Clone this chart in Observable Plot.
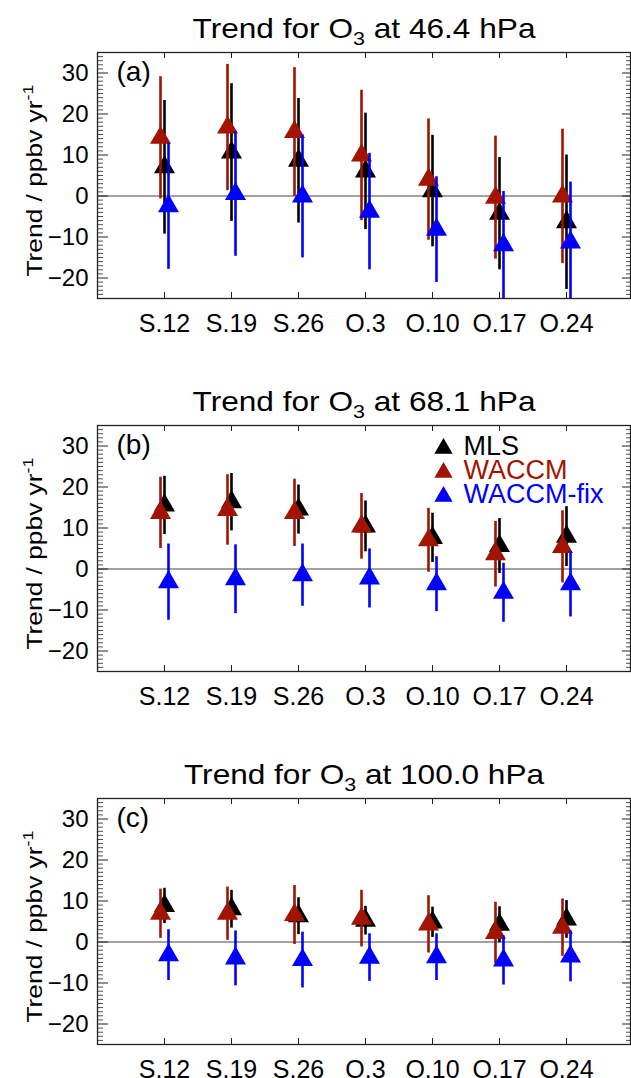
<!DOCTYPE html>
<html><head><meta charset="utf-8">
<script src="https://cdn.jsdelivr.net/npm/d3@7"></script>
<script src="https://cdn.jsdelivr.net/npm/@observablehq/plot@0.6"></script>
<style>
html,body{margin:0;padding:0;overflow:hidden;background:#fff}
#chart svg{display:block}
</style>
</head><body><div id="chart"></div>
<script>
const categories = ["S.12","S.19","S.26","O.3","O.10","O.17","O.24"];
const series = ["MLS","WACCM","WACCM-fix"];
const seriesColors = ["#000000","#a31400","#0000ff"];
const pressures = ["46.4","68.1","100.0"];
const panelLabels = ["(a)","(b)","(c)"];
const yTicks = [-20,-10,0,10,20,30];
const yMinorTicks = [-25,-24,-23,-22,-21,-19,-18,-17,-16,-15,-14,-13,-12,-11,-9,-8,-7,-6,-5,-4,-3,-2,-1,1,2,3,4,5,6,7,8,9,11,12,13,14,15,16,17,18,19,21,22,23,24,25,26,27,28,29,31,32,33,34,35];
const yLabel = "Trend / ppbv yr-1";

// Panel (a) 46.4 hPa
const mlsA      = [7.0, 10.6, 8.6, 6.0, 1.2, -4.3, -6.4];
const mlsAErr   = [16.3, 16.8, 15.2, 14.2, 13.6, 13.7, 16.4];
const waccmA    = [14.2, 16.7, 15.6, 9.9, 4.0, -0.4, -0.1];
const waccmAErr = [14.9, 15.4, 15.7, 15.9, 14.8, 15.0, 16.4];
const fixA      = [-2.5, 0.5, -0.1, -3.8, -8.2, -12.0, -11.3];
const fixAErr   = [15.4, 15.2, 15.0, 14.2, 12.9, 13.1, 14.7];
// Panel (b) 68.1 hPa
const mlsB      = [15.5, 16.3, 14.5, 10.4, 7.6, 5.6, 7.9];
const mlsBErr   = [7.1, 7.0, 6.0, 6.2, 6.0, 6.7, 7.3];
const waccmB    = [13.7, 14.4, 13.7, 10.4, 7.0, 3.6, 5.4];
const waccmBErr = [8.7, 8.6, 8.2, 8.0, 7.8, 8.0, 8.8];
const fixB      = [-3.2, -2.5, -1.5, -2.3, -3.7, -5.8, -3.7];
const fixBErr   = [9.3, 8.4, 7.6, 7.2, 6.7, 7.2, 8.0];
// Panel (c) 100.0 hPa
const mlsC      = [8.8, 8.0, 6.3, 5.2, 4.8, 4.2, 5.5];
const mlsCErr   = [4.3, 4.6, 4.5, 3.5, 3.7, 4.4, 4.6];
const waccmC    = [6.9, 6.9, 6.6, 5.7, 4.3, 2.2, 3.5];
const waccmCErr = [6.0, 6.5, 7.2, 6.9, 7.0, 7.5, 7.0];
const fixC      = [-3.2, -4.0, -4.4, -3.8, -3.7, -4.5, -3.5];
const fixCErr   = [6.2, 6.7, 6.8, 5.8, 5.7, 6.0, 6.2];

const panelValues = [[mlsA, waccmA, fixA],[mlsB, waccmB, fixB],[mlsC, waccmC, fixC]];
const panelErrors = [[mlsAErr, waccmAErr, fixAErr],[mlsBErr, waccmBErr, fixBErr],[mlsCErr, waccmCErr, fixCErr]];

const FONT = "'Liberation Sans', Arial, Helvetica, sans-serif";
const W = 631, H = 373, MT = 52, MB = 75, ML = 97, MR = 1;
const FW = W - ML - MR, FH = H - MT - MB;
const seriesDx = [0, -4, 4];
const INK = "#222";

function makePanel(i) {
  const title = `Trend for O3 at ${pressures[i]} hPa`;
  const marks = [];
  marks.push(Plot.ruleY([0], {stroke: "#444", strokeWidth: 1}));
  series.forEach((s, k) => {
    const rows = categories.map((c, j) => ({cat: c, series: s, value: panelValues[i][k][j], err: panelErrors[i][k][j]}));
    marks.push(Plot.ruleX(rows, {x: "cat", y1: d => d.value - d.err, y2: d => d.value + d.err,
      stroke: seriesColors[k], strokeWidth: 2.6, dx: seriesDx[k], clip: true}));
    marks.push(Plot.dot(rows, {x: "cat", y: "value", symbol: "triangle", r: 7.8,
      fill: seriesColors[k], stroke: "none", dx: seriesDx[k], clip: true}));
  });
  // inward ticks
  marks.push(Plot.tickY(yTicks, {y: d => d, insetRight: FW - 11, stroke: INK, strokeWidth: 1}));
  marks.push(Plot.tickY(yTicks, {y: d => d, insetLeft: FW - 8, stroke: INK, strokeWidth: 1}));
  marks.push(Plot.tickY(yMinorTicks, {y: d => d, insetRight: FW - 6, stroke: INK, strokeWidth: 0.8}));
  marks.push(Plot.tickY(yMinorTicks, {y: d => d, insetLeft: FW - 4, stroke: INK, strokeWidth: 0.8}));
  marks.push(Plot.tickX(categories, {x: d => d, insetBottom: FH - 6, stroke: INK, strokeWidth: 1}));
  marks.push(Plot.tickX(categories, {x: d => d, insetTop: FH - 6, stroke: INK, strokeWidth: 1}));
  marks.push(Plot.frame({stroke: INK, strokeWidth: 1.3}));
  marks.push(Plot.axisX({tickSize: 0, tickPadding: 16, label: null, fontSize: 25}));
  marks.push(Plot.axisY(yTicks, {tickSize: 0, tickPadding: 9, label: null, fontSize: 24}));
  marks.push(Plot.text([title], {text: d => d, frameAnchor: "top", dy: -15, lineAnchor: "bottom", fontSize: 28, fill: "#000"}));
  marks.push(Plot.text([panelLabels[i]], {text: d => d, frameAnchor: "top-left", dx: 19, dy: 9, lineAnchor: "top", textAnchor: "start", fontSize: 28, fill: "#000"}));
  marks.push(Plot.text([yLabel], {text: d => d, frameAnchor: "left", dx: -63, dy: 5, rotate: -90, lineAnchor: "middle", textAnchor: "middle", fontSize: 22, fill: "#000"}));
  if (i === 1) {
    series.forEach((s, k) => {
      marks.push(Plot.dot([s], {frameAnchor: "top-left", dx: 346, dy: 23 + 24 * k, symbol: "triangle", r: 6.8, fill: seriesColors[k], stroke: "none"}));
      marks.push(Plot.text([s], {text: d => d, frameAnchor: "top-left", dx: 366, dy: 21 + 24 * k, lineAnchor: "middle", textAnchor: "start", fontSize: 27, fill: seriesColors[k]}));
    });
  }
  const svg = Plot.plot({
    width: W, height: H,
    marginTop: MT, marginBottom: MB, marginLeft: ML, marginRight: MR,
    style: {fontFamily: FONT, fontSize: "24px", background: "#fff", color: "#000", overflow: "visible"},
    x: {type: "point", domain: categories, padding: 0.972, align: 0.51},
    y: {domain: [-25, 35]},
    marks
  });
  // subscript / superscript, and widen to the reference's text lengths
  d3.select(svg).selectAll("text").each(function() {
    const t = d3.select(this);
    const txt = this.textContent;
    if (txt === title) {
      t.text(null);
      t.append("tspan").text("Trend for O");
      t.append("tspan").attr("font-size", 19).attr("dy", 7).text("3");
      t.append("tspan").attr("dy", -7).text(` at ${pressures[i]} hPa`);
      t.attr("textLength", i === 2 ? 360 : 343).attr("lengthAdjust", "spacingAndGlyphs");
    } else if (txt === yLabel) {
      t.text(null);
      t.append("tspan").text("Trend / ppbv yr");
      t.append("tspan").attr("font-size", 15).attr("dy", -9).text("-1");
      t.attr("textLength", 192).attr("lengthAdjust", "spacingAndGlyphs");
    }
  });
  return svg;
}

const root = document.getElementById("chart");
for (let i = 0; i < 3; i++) root.appendChild(makePanel(i));
</script>
</body></html>
